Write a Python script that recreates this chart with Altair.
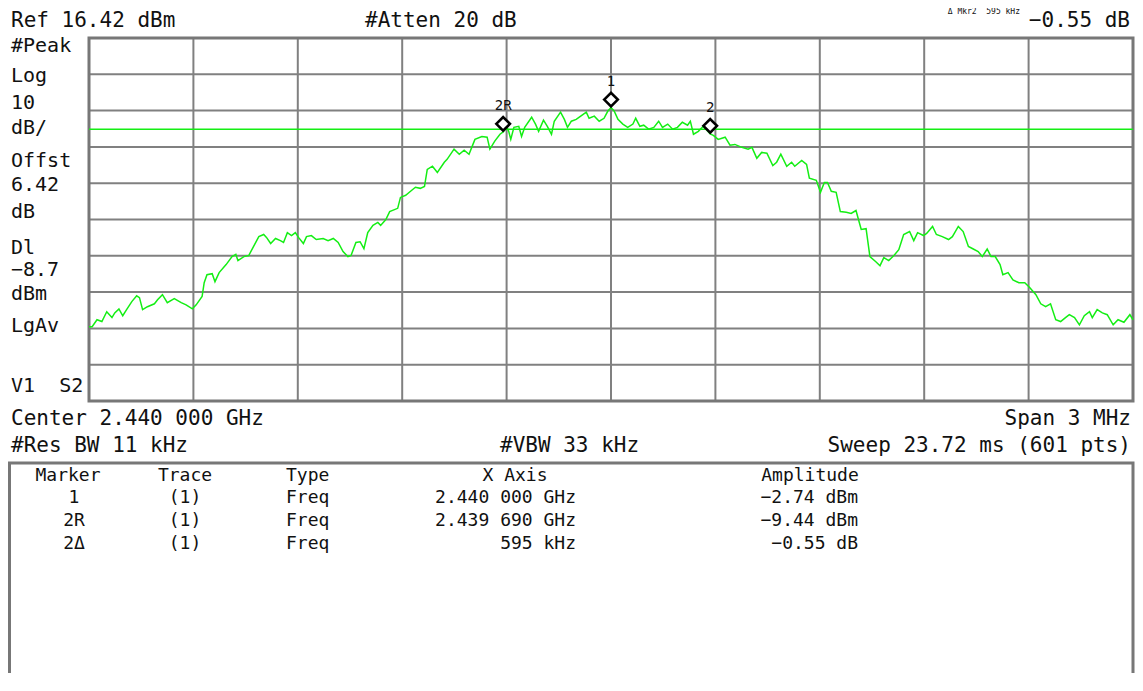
import altair as alt
import pandas as pd

# ---------------- instrument settings (from the screen) ----------------
CENTER_MHZ = 2440.0
SPAN_MHZ = 3.0
REF_DBM = 16.42
DB_PER_DIV = 10.0
DL_DBM = -8.7

# ---------------- trace read from the screen ----------------
# offset from centre frequency (kHz)
trace_khz = [
    -1500, -1491, -1477, -1463, -1449, -1434, -1426, -1414, -1403, -1392,
    -1377, -1363, -1355, -1346, -1332, -1312, -1303, -1289, -1275, -1255,
    -1235, -1221, -1203, -1192, -1175, -1169, -1161, -1146, -1138, -1126,
    -1106, -1089, -1078, -1072, -1055, -1041, -1027, -1012, -998, -990,
    -978, -964, -950, -941, -930, -918, -907, -898, -884, -875,
    -861, -847, -827, -813, -798, -784, -770, -756, -747, -733,
    -721, -710, -699, -684, -670, -662, -647, -636, -613, -605,
    -590, -576, -562, -548, -536, -528, -513, -499, -479, -471,
    -451, -436, -422, -408, -391, -371, -356, -348, -334, -319,
    -310, -299, -294, -288, -279, -265, -257, -248, -228, -217,
    -208, -194, -183, -171, -163, -145, -134, -125, -114, -100,
    -80, -71, -63, -48, -34, -20, -9, 0, 9, 20,
    34, 48, 63, 71, 83, 94, 108, 123, 137, 148,
    163, 177, 191, 205, 220, 228, 237, 251, 265, 285,
    294, 308, 328, 342, 356, 376, 394, 405, 419, 433,
    448, 465, 476, 488, 505, 519, 528, 548, 562, 570,
    590, 602, 613, 622, 633, 647, 659, 676, 690, 704,
    719, 733, 744, 761, 773, 784, 798, 813, 827, 841,
    858, 870, 881, 898, 907, 924, 935, 952, 970, 981,
    998, 1012, 1027, 1041, 1055, 1067, 1081, 1092, 1104, 1118,
    1126, 1141, 1155, 1172, 1189, 1203, 1221, 1235, 1249, 1263,
    1278, 1292, 1306, 1317, 1332, 1346, 1360, 1375, 1383, 1397,
    1412, 1426, 1443, 1457, 1474, 1491, 1500,
]
# level (dBm)
trace_dbm = [
    -63.1, -63.1, -61.2, -61.7, -59.0, -60.6, -59.3, -58.2, -60.1, -58.4,
    -56.2, -54.6, -55.1, -58.4, -57.6, -56.8, -55.7, -54.3, -56.5, -55.4,
    -56.5, -57.1, -58.2, -57.1, -54.8, -51.0, -48.8, -48.5, -50.7, -48.2,
    -46.0, -43.8, -43.2, -44.9, -43.8, -43.5, -41.0, -38.3, -37.7, -38.5,
    -40.2, -38.8, -39.4, -39.9, -37.2, -38.0, -37.2, -38.5, -40.2, -38.3,
    -38.0, -39.1, -38.8, -39.4, -38.8, -39.9, -42.4, -43.8, -43.5, -39.9,
    -39.7, -41.6, -37.2, -35.2, -34.4, -35.2, -33.6, -31.4, -30.5, -27.5,
    -26.9, -25.8, -24.7, -25.0, -24.5, -19.8, -18.9, -20.6, -17.8, -17.0,
    -14.2, -15.6, -14.5, -15.6, -11.5, -10.7, -10.9, -14.2, -12.0, -10.1,
    -9.44, -8.2, -9.3, -11.5, -8.2, -7.9, -10.7, -8.2, -5.4, -7.3,
    -9.3, -6.2, -7.9, -10.1, -6.5, -4.0, -6.0, -8.2, -6.5, -6.0,
    -4.6, -4.0, -5.7, -5.1, -6.5, -5.7, -3.7, -2.74, -3.7, -6.0,
    -7.3, -8.2, -7.3, -5.7, -7.9, -7.6, -8.7, -8.2, -6.5, -8.2,
    -7.3, -8.7, -8.2, -6.8, -7.6, -6.5, -10.1, -9.3, -7.9, -9.99,
    -10.4, -11.5, -10.9, -13.1, -12.9, -13.7, -14.2, -13.7, -16.7, -15.1,
    -15.3, -18.7, -17.8, -15.6, -18.9, -17.8, -18.9, -17.3, -18.4, -22.2,
    -22.8, -26.1, -23.4, -23.4, -25.8, -26.1, -31.4, -31.6, -31.9, -31.1,
    -36.3, -36.1, -43.8, -45.2, -46.3, -44.1, -44.9, -43.5, -41.9, -37.7,
    -36.9, -39.4, -37.2, -38.0, -37.4, -35.5, -37.7, -38.3, -39.1, -38.3,
    -35.5, -36.9, -41.0, -41.7, -42.4, -43.8, -41.7, -43.8, -43.8, -46.0,
    -48.8, -48.2, -50.2, -51.0, -51.0, -52.3, -54.3, -56.8, -57.6, -56.8,
    -61.2, -61.7, -60.6, -59.8, -60.6, -62.6, -60.1, -59.0, -60.6, -58.4,
    -59.3, -59.8, -62.6, -61.2, -61.9, -59.8, -61.2,
]
assert len(trace_khz) == len(trace_dbm)

# markers
marker_khz = [0, -310, 285]
marker_dbm = [-2.74, -9.44, -9.99]
marker_lbl = ["1", "2R", "2"]

# screen annotations
NB = "\u00a0"
left_labels = ["#Peak", "Log", "10", "dB/", "Offst", "6.42", "dB",
               "Dl", "\u22128.7", "dBm", "LgAv", "V1" + NB + NB + "S2"]
table_header = ["Marker", "Trace", "Type", "X Axis", "Amplitude"]
table_marker = ["1", "2R", "2\u0394"]
table_trace = ["(1)", "(1)", "(1)"]
table_type = ["Freq", "Freq", "Freq"]
table_xaxis = ["2.440 000 GHz", "2.439 690 GHz", "595 kHz"]
table_amp = ["\u22122.74 dBm", "\u22129.44 dBm", "\u22120.55 dB"]

# ---------------- layout (pixels, chart coordinates) ----------------
W, H = 1127, 665
PX0, PX1 = 81, 1125
PY0, PY1 = 30, 393
FONT = "DejaVu Sans Mono"
INK = "#111111"
GREEN = "#14ee14"
GRID = "#808080"

one = pd.DataFrame({"k": [0]})

xs = alt.Scale(domain=[CENTER_MHZ - SPAN_MHZ / 2, CENTER_MHZ + SPAN_MHZ / 2],
               range=[PX0, PX1], nice=False, zero=False)
ys = alt.Scale(domain=[REF_DBM - 10 * DB_PER_DIV, REF_DBM],
               range=[PY1, PY0], nice=False, zero=False)

trace = pd.DataFrame({"mhz": [CENTER_MHZ + k / 1000 for k in trace_khz],
                      "dbm": trace_dbm})
markers = pd.DataFrame({"mhz": [CENTER_MHZ + k / 1000 for k in marker_khz],
                        "dbm": marker_dbm, "lbl": marker_lbl})
vgrid = pd.DataFrame({"mhz": [CENTER_MHZ - SPAN_MHZ / 2 + SPAN_MHZ / 10 * i
                              for i in range(1, 10)]})
hgrid = pd.DataFrame({"dbm": [REF_DBM - DB_PER_DIV * i for i in range(1, 10)]})
dl = pd.DataFrame({"dbm": [DL_DBM]})

layers = []

layers.append(alt.Chart(vgrid).mark_rule(color=GRID, strokeWidth=2).encode(
    x=alt.X("mhz:Q", scale=xs, axis=None),
    y=alt.value(PY0), y2=alt.value(PY1)))
layers.append(alt.Chart(hgrid).mark_rule(color=GRID, strokeWidth=2).encode(
    y=alt.Y("dbm:Q", scale=ys, axis=None),
    x=alt.value(PX0), x2=alt.value(PX1)))

# plot frame
layers.append(alt.Chart(one).mark_rect(fill=None, stroke="#777777", strokeWidth=3).encode(
    x=alt.value(PX0), x2=alt.value(PX1), y=alt.value(PY0), y2=alt.value(PY1)))
# marker table frame
layers.append(alt.Chart(one).mark_rect(fill=None, stroke="#777777", strokeWidth=3).encode(
    x=alt.value(1.5), x2=alt.value(PX1), y=alt.value(455), y2=alt.value(H + 20)))

# display line
layers.append(alt.Chart(dl).mark_rule(color=GREEN, strokeWidth=1.5).encode(
    y=alt.Y("dbm:Q", scale=ys, axis=None),
    x=alt.value(PX0), x2=alt.value(PX1)))

# trace
layers.append(alt.Chart(trace).mark_line(color=GREEN, strokeWidth=1.5).encode(
    x=alt.X("mhz:Q", scale=xs, axis=None),
    y=alt.Y("dbm:Q", scale=ys, axis=None)))

# markers
layers.append(alt.Chart(markers).mark_point(
    shape="diamond", size=185, filled=True, fill="white", stroke="black",
    strokeWidth=2.6, opacity=1, yOffset=-8).encode(
    x=alt.X("mhz:Q", scale=xs, axis=None),
    y=alt.Y("dbm:Q", scale=ys, axis=None)))
layers.append(alt.Chart(markers).mark_text(
    font=FONT, fontSize=14, color=INK, dy=-26, baseline="middle").encode(
    x=alt.X("mhz:Q", scale=xs, axis=None),
    y=alt.Y("dbm:Q", scale=ys, axis=None),
    text="lbl:N"))


def label(text, x, y, align="left", size=21, baseline="middle"):
    return alt.Chart(one).mark_text(
        text=text, align=align, baseline=baseline, font=FONT,
        fontSize=size, color=INK).encode(x=alt.value(x), y=alt.value(y))


# header / footer of the screen
layers.append(label("Ref 16.42 dBm", 3, 13))
layers.append(label("#Atten 20 dB", 357, 13))
layers.append(label("\u22120.55 dB", 1122, 13, align="right"))
layers.append(label("\u0394 Mkr2" + NB + NB + "595 kHz", 1012, 0, align="right",
                    size=8, baseline="top"))
layers.append(label("Center 2.440 000 GHz", 3, 411))
layers.append(label("Span 3 MHz", 1123, 411, align="right"))
layers.append(label("#Res BW 11 kHz", 3, 438))
layers.append(label("#VBW 33 kHz", 492, 438))
layers.append(label("Sweep 23.72 ms (601 pts)", 1123, 438, align="right"))

# left side annotations
left_y = [38, 68, 95, 120, 153, 177, 204, 240, 262, 286, 318, 378]
for t, yy in zip(left_labels, left_y):
    layers.append(label(t, 3, yy, size=20))

# marker table
TS = 18
row_y = [490, 513, 536]
hy = 468
layers.append(label(table_header[0], 60, hy, align="center", size=TS))
layers.append(label(table_header[1], 177, hy, align="center", size=TS))
layers.append(label(table_header[2], 278, hy, align="left", size=TS))
layers.append(label(table_header[3], 507, hy, align="center", size=TS))
layers.append(label(table_header[4], 802, hy, align="center", size=TS))
for i, yy in enumerate(row_y):
    layers.append(label(table_marker[i], 66, yy, align="center", size=TS))
    layers.append(label(table_trace[i], 177, yy, align="center", size=TS))
    layers.append(label(table_type[i], 278, yy, align="left", size=TS))
    layers.append(label(table_xaxis[i], 568, yy, align="right", size=TS))
    layers.append(label(table_amp[i], 850, yy, align="right", size=TS))

chart = alt.layer(*layers).properties(
    width=W, height=H, padding=0,
    autosize=alt.AutoSizeParams(type="none"),
    background="white",
).configure_view(stroke=None)

chart.save("out.html", embed_options={"renderer": "svg", "actions": False})
